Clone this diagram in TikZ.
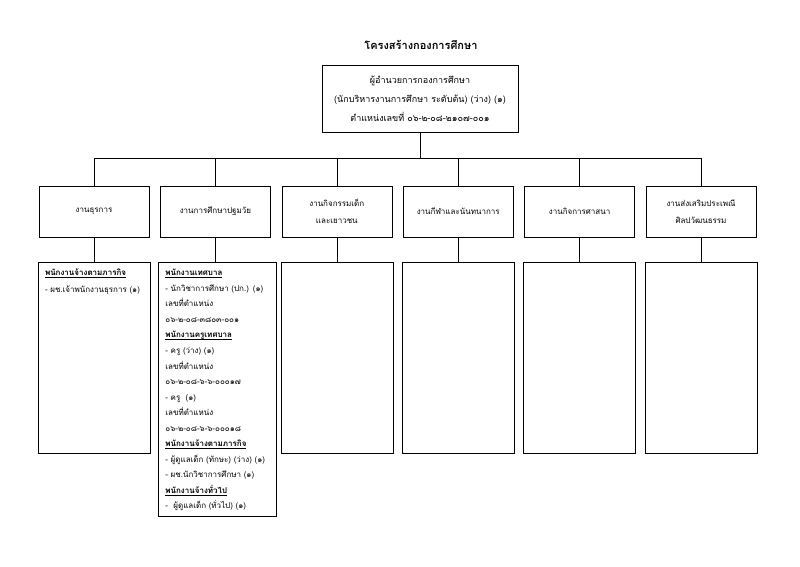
\documentclass[tikz,border=0pt]{standalone}
\usepackage{fontspec}
\newfontfamily\thaifont[Script=Thai]{Loma}
\usetikzlibrary{positioning}

\newcommand{\fixlines}{\lineskiplimit=-10pt\relax}
\tikzset{
  head/.style={font=\thaifont\bfseries\fontsize{11}{13}\selectfont},
  chief/.style={draw, thin, minimum width=196pt, minimum height=67pt, align=center,
    font=\thaifont\fontsize{9}{19}\selectfont},
  unit/.style={draw, thin, minimum width=110pt, minimum height=51pt, align=center,
    font=\thaifont\fontsize{8}{16.5}\selectfont\fixlines},
  staff/.style={draw, thin, anchor=north, inner xsep=7pt, text width=98pt, align=left,
    text height=10pt, text depth=174pt,
    font=\thaifont\fontsize{8}{15.55}\selectfont\fixlines},
}
\newcommand{\grp}[1]{\underline{\smash{\bfseries #1}}}

\begin{document}
\begin{tikzpicture}[x=1pt, y=-1pt]
\useasboundingbox (0,0) rectangle (800,566);
\node [head] (title) at (421,45) {โครงสร้างกองการศึกษา};
\node [chief] (dir) at (420,98.5) {ผู้อำนวยการกองการศึกษา\\
  (นักบริหารงานการศึกษา ระดับต้น) (ว่าง) (๑)\\
  ตำแหน่งเลขที่ ๐๖-๒-๐๘-๒๑๐๗-๐๐๑};
% units
\node [unit] (u1) at (94,211.5) {งานธุรการ};
\node [unit, right=11pt of u1] (u2) {งานการศึกษาปฐมวัย};
\node [unit, right=11pt of u2] (u3) {งานกิจกรรมเด็ก\\และเยาวชน};
\node [unit, right=11pt of u3] (u4) {งานกีฬาและนันทนาการ};
\node [unit, right=11pt of u4] (u5) {งานกิจการศาสนา};
\node [unit, right=11pt of u5] (u6) {งานส่งเสริมประเพณี\\ศิลปวัฒนธรรม};
% staff
\node [staff, below=25pt of u1] (s1) {\grp{พนักงานจ้างตามภารกิจ}\\[1pt]
  - ผช.เจ้าพนักงานธุรการ (๑)};
\node [staff, below=25pt of u2, xshift=2pt, text width=104pt, text depth=237pt] (s2) {\grp{พนักงานเทศบาล}\\
  - นักวิชาการศึกษา (ปก.) (๑)\\
  เลขที่ตำแหน่ง\\
  ๐๖-๒-๐๘-๓๘๐๓-๐๐๑\\
  \grp{พนักงานครูเทศบาล}\\
  - ครู (ว่าง) (๑)\\
  เลขที่ตำแหน่ง\\
  ๐๖-๒-๐๘-๖-๖-๐๐๐๑๗\\
  - ครู\ \ (๑)\\
  เลขที่ตำแหน่ง\\
  ๐๖-๒-๐๘-๖-๖-๐๐๐๑๘\\
  \grp{พนักงานจ้างตามภารกิจ}\\
  - ผู้ดูแลเด็ก (ทักษะ) (ว่าง) (๑)\\
  - ผช.นักวิชาการศึกษา (๑)\\
  \grp{พนักงานจ้างทั่วไป}\\
  -\ \ ผู้ดูแลเด็ก (ทั่วไป) (๑)};
\node [staff, below=25pt of u3] (s3) {};
\node [staff, below=25pt of u4] (s4) {};
\node [staff, below=25pt of u5] (s5) {};
\node [staff, below=25pt of u6] (s6) {};
% connectors
\coordinate (bus) at (dir.south |- 0,158);
\draw (dir.south) -- (bus);
\draw (u1.north |- bus) -- (u6.north |- bus);
\foreach \i in {1,...,6} {
  \draw (u\i.north |- bus) -- (u\i.north);
  \draw (u\i.south) -- (u\i.south |- s\i.north);
}
\end{tikzpicture}
\end{document}
